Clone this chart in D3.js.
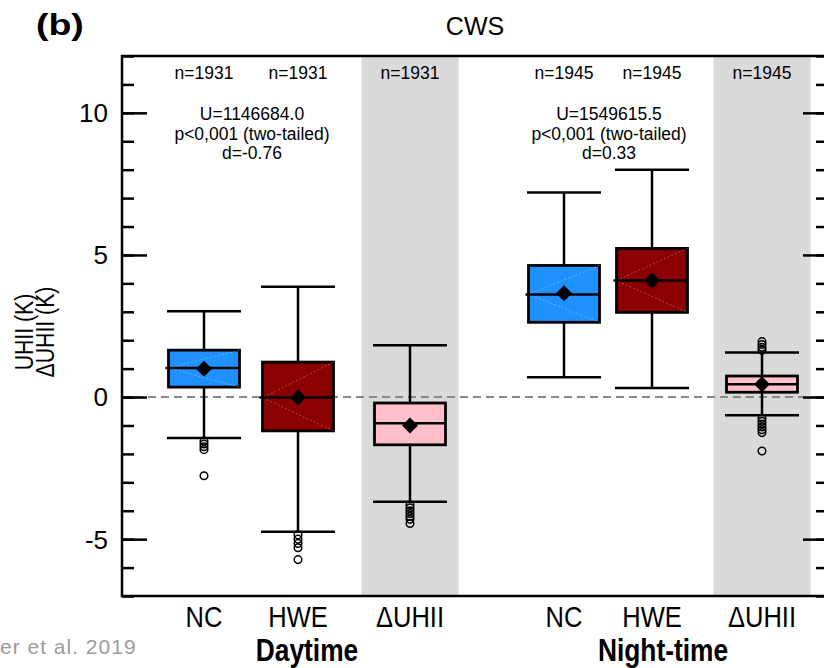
<!DOCTYPE html>
<html>
<head>
<meta charset="utf-8">
<script src="https://cdn.jsdelivr.net/npm/d3@7"></script>
<style>
  body { margin: 0; background: #fff; }
  svg { display: block; }
  text { font-family: "Liberation Sans", Arial, sans-serif; }
</style>
</head>
<body>
<div id="chart"></div>
<script>
// categories and their groups
const categories = ["NC", "HWE", "\u0394UHII", "NC", "HWE", "\u0394UHII"];
const groups = ["Daytime", "Night-time"];
const groupOf = [0, 0, 0, 1, 1, 1];
const counts = ["n=1931", "n=1931", "n=1931", "n=1945", "n=1945", "n=1945"];

// box statistics (K)
const whiskerLow = [-1.44, -4.74, -3.68, 0.70, 0.32, -0.64];
const q1 = [0.35, -1.19, -1.68, 2.63, 2.98, 0.17];
const median = [1.02, -0.02, -0.92, 3.61, 4.10, 0.45];
const mean = [1.00, -0.02, -1.00, 3.65, 4.10, 0.45];
const q3 = [1.65, 1.23, -0.21, 4.63, 5.23, 0.74];
const whiskerHigh = [3.02, 3.88, 1.82, 7.20, 8.00, 1.57];
const outliers = [
  [-1.55, -1.65, -1.75, -1.85, -2.77],
  [-4.85, -5.0, -5.15, -5.3, -5.72],
  [-3.8, -3.9, -4.0, -4.1, -4.2, -4.3, -4.45],
  [],
  [],
  [1.65, 1.75, 1.85, 1.95, -0.75, -0.85, -0.95, -1.05, -1.15, -1.25, -1.9]
];
const kind = ["nc", "hwe", "delta", "nc", "hwe", "delta"];

// test statistics per group
const statsText = [
  ["U=1146684.0", "p<0,001 (two-tailed)", "d=-0.76"],
  ["U=1549615.5", "p<0,001 (two-tailed)", "d=0.33"]
];

const yTicks = [-5, 0, 5, 10];

// layout
const W = 824, H = 668;
const mLeft = 122, mRight = 828, mTop = 56, mBottom = 596;
const slot = [0.82, 1.76, 2.88, 4.42, 5.30, 6.40];
const fills = { nc: "#1e90ff", hwe: "#8b0000", delta: "#ffc0cb" };
const narrow = 0.85;

const x = d3.scaleLinear().domain([0, 7]).range([mLeft, mLeft + 700]);
const y = d3.scaleLinear().domain([-7, 12]).range([mBottom, mTop]);

const svg = d3.select("#chart").append("svg").attr("width", W).attr("height", H);

// grey bands behind delta columns
const bandHalf = 0.485;
svg.append("g").selectAll("rect")
  .data(slot.filter((d, i) => kind[i] === "delta"))
  .join("rect")
  .attr("x", d => x(d - bandHalf))
  .attr("width", x(2 * bandHalf) - x(0))
  .attr("y", mTop)
  .attr("height", mBottom - mTop)
  .attr("fill", "#dadada");

// zero line
svg.append("line")
  .attr("x1", mLeft).attr("x2", mRight)
  .attr("y1", y(0)).attr("y2", y(0))
  .attr("stroke", "#888").attr("stroke-width", 2)
  .attr("stroke-dasharray", "8,5");

// axes
const minor = d3.range(-7, 13);
svg.append("g").attr("transform", `translate(${mLeft},0)`)
  .call(d3.axisRight(y).tickValues(minor).tickSize(12).tickFormat(""));
svg.append("g").attr("transform", `translate(${mLeft},0)`)
  .call(d3.axisRight(y).tickValues(yTicks).tickSize(25).tickFormat(""));
svg.append("g").attr("transform", `translate(${mRight},0)`)
  .call(d3.axisLeft(y).tickValues(minor).tickSize(12).tickFormat(""));
svg.append("g").attr("transform", `translate(${mRight},0)`)
  .call(d3.axisLeft(y).tickValues(yTicks).tickSize(25).tickFormat(""));
svg.selectAll(".domain").remove();
svg.selectAll(".tick line").attr("stroke", "#000").attr("stroke-width", 2.5);

// frame
svg.append("path")
  .attr("d", `M${mLeft},${mTop}V${mBottom}H${mRight}V${mTop}Z`)
  .attr("fill", "none").attr("stroke", "#000").attr("stroke-width", 2.5);

// y tick labels
svg.append("g").selectAll("text")
  .data(yTicks)
  .join("text")
  .attr("x", mLeft - 14)
  .attr("y", d => y(d))
  .attr("dy", "0.36em")
  .attr("text-anchor", "end")
  .attr("font-size", 26)
  .text(d => d);

// y label (two lines, rotated)
const yLabel = ["UHII (K)", "\u0394UHII (K)"];
svg.append("g").selectAll("text")
  .data(yLabel)
  .join("text")
  .attr("transform", (d, k) => `translate(${33 + k * 21},332) rotate(-90) scale(${narrow},1)`)
  .attr("text-anchor", "middle")
  .attr("font-size", 25)
  .text(d => d);

// boxes
const boxHalf = 0.355, capHalf = 0.37;
const box = svg.append("g").selectAll("g")
  .data(categories.map((c, i) => i))
  .join("g");

box.append("line")
  .attr("x1", i => x(slot[i])).attr("x2", i => x(slot[i]))
  .attr("y1", i => y(whiskerLow[i])).attr("y2", i => y(whiskerHigh[i]))
  .attr("stroke", "#000").attr("stroke-width", 2.5);

[whiskerLow, whiskerHigh].forEach(w => {
  box.append("line")
    .attr("x1", i => x(slot[i] - capHalf)).attr("x2", i => x(slot[i] + capHalf))
    .attr("y1", i => y(w[i])).attr("y2", i => y(w[i]))
    .attr("stroke", "#000").attr("stroke-width", 2.5);
});

box.append("rect")
  .attr("x", i => x(slot[i] - boxHalf))
  .attr("width", x(2 * boxHalf) - x(0))
  .attr("y", i => y(q3[i]))
  .attr("height", i => y(q1[i]) - y(q3[i]))
  .attr("fill", i => fills[kind[i]])
  .attr("stroke", "#000").attr("stroke-width", 2.8);

// faint notch guides inside NC/HWE boxes
box.filter(i => kind[i] !== "delta").append("path")
  .attr("d", i => {
    const x0 = x(slot[i] - boxHalf), x1 = x(slot[i] + boxHalf);
    return `M${x1},${y(q3[i])}L${x0},${y(median[i])}L${x1},${y(q1[i])}`;
  })
  .attr("fill", "none")
  .attr("stroke", "#fff").attr("stroke-opacity", 0.3)
  .attr("stroke-width", 1).attr("stroke-dasharray", "2,2");

box.append("line")
  .attr("x1", i => x(slot[i] - boxHalf) - (kind[i] === "delta" ? 0 : 3))
  .attr("x2", i => x(slot[i] + boxHalf))
  .attr("y1", i => y(median[i])).attr("y2", i => y(median[i]))
  .attr("stroke", "#000").attr("stroke-width", 2.5);

box.append("path")
  .attr("transform", i => `translate(${x(slot[i])},${y(mean[i])})`)
  .attr("d", "M0,-8L8,0L0,8L-8,0Z")
  .attr("fill", "#000");

box.selectAll("circle")
  .data(i => outliers[i].map(v => ({ i, v })))
  .join("circle")
  .attr("cx", d => x(slot[d.i]))
  .attr("cy", d => y(d.v))
  .attr("r", 3.8)
  .attr("fill", "none")
  .attr("stroke", "#000").attr("stroke-width", 1.5);

// n labels
svg.append("g").selectAll("text")
  .data(counts)
  .join("text")
  .attr("x", (d, i) => x(slot[i]))
  .attr("y", 79)
  .attr("text-anchor", "middle")
  .attr("font-size", 17.5)
  .text(d => d);

// test statistics
const groupIdx = g => groupOf.map((v, i) => v === g ? i : -1).filter(i => i >= 0);
statsText.forEach((lines, g) => {
  const idx = groupIdx(g);
  const cx = (x(slot[idx[0]]) + x(slot[idx[1]])) / 2 + 1;
  svg.append("g").selectAll("text")
    .data(lines)
    .join("text")
    .attr("x", cx)
    .attr("y", (d, k) => 120 + k * 19.5)
    .attr("text-anchor", "middle")
    .attr("font-size", 17.5)
    .text(d => d);
});

// category labels
svg.append("g").selectAll("text")
  .data(categories)
  .join("text")
  .attr("transform", (d, i) => `translate(${x(slot[i])},627) scale(${narrow},1)`)
  .attr("text-anchor", "middle")
  .attr("font-size", 30)
  .text(d => d);

// group labels
svg.append("g").selectAll("text")
  .data(groups)
  .join("text")
  .attr("transform", (d, g) => {
    const idx = groupIdx(g);
    const cx = (x(slot[idx[0]]) + x(slot[idx[idx.length - 1]])) / 2;
    return `translate(${cx},661) scale(${narrow},1)`;
  })
  .attr("text-anchor", "middle")
  .attr("font-size", 31)
  .attr("font-weight", "bold")
  .text(d => d);

// title and panel letter
svg.append("text")
  .attr("x", 475).attr("y", 35)
  .attr("text-anchor", "middle")
  .attr("font-size", 25)
  .text("CWS");
svg.append("text")
  .attr("transform", "translate(36,35) scale(1.25,1)")
  .attr("font-size", 30).attr("font-weight", "bold")
  .text("(b)");

// source note
svg.append("text")
  .attr("x", 0).attr("y", 654)
  .attr("font-family", "'Open Sans', sans-serif")
  .attr("font-size", 21)
  .attr("letter-spacing", 1)
  .attr("fill", "#9c9c9c")
  .text("er et al. 2019");
</script>
</body>
</html>
